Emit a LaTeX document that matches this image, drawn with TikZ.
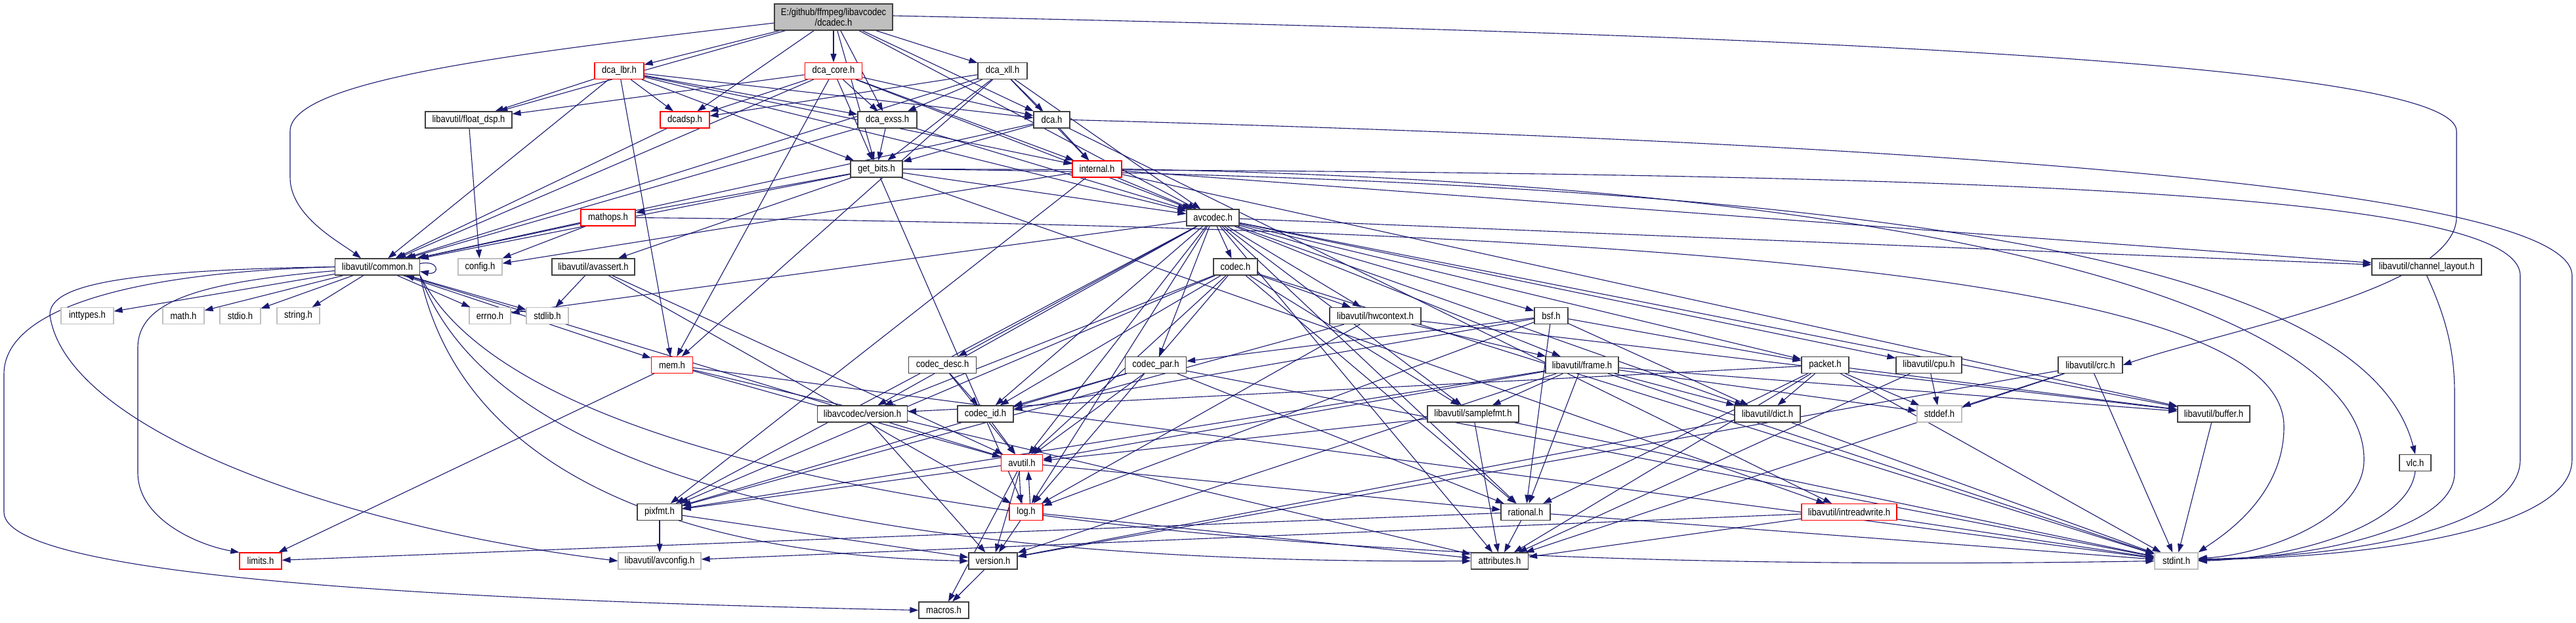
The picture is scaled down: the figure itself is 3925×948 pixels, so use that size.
\documentclass[tikz,border=0pt]{standalone}
\usepackage{fontspec}
\setmainfont{Liberation Sans}[FakeStretch=0.87]
\usetikzlibrary{arrows.meta,calc}
\definecolor{edgecol}{HTML}{191970}
\definecolor{rootfill}{HTML}{BFBFBF}
\definecolor{grayb}{HTML}{BFBFBF}
\definecolor{darkb}{HTML}{404040}
\pgfdeclarelayer{bg}
\pgfsetlayers{bg,main}
\newcommand{\mkbox}[6]{\node[#5, minimum width=#4pt] (#1) at (#2,#3) {#6};}
\begin{document}
\begin{tikzpicture}[x=1pt,y=-1pt, font=\fontsize{15}{16}\selectfont,
  box/.style={rectangle, draw=darkb, line width=1.2pt, fill=white, minimum height=25pt, inner sep=0pt},
  rbox/.style={box, draw=red},
  gbox/.style={box, draw=grayb},
  e/.style={draw=edgecol, line width=1.1pt, -{Triangle[length=13pt,width=9pt]}}]
\begin{pgfonlayer}{bg}
\fill[white] (0,0) rectangle (3925,948);
\end{pgfonlayer}
\useasboundingbox (0,0) rectangle (3925,948);

\node[box, fill=rootfill, minimum width=180pt, minimum height=40pt, align=center] (root) at (1270,26) {E:/github/ffmpeg/libavcodec\\/dcadec.h};
\mkbox{lbr}{943.5}{108}{75}{rbox}{dca\_lbr.h}
\mkbox{core}{1270}{108}{87.5}{rbox}{dca\_core.h}
\mkbox{xll}{1527.5}{108}{75}{box}{dca\_xll.h}
\mkbox{fdsp}{714}{182.5}{132}{box}{libavutil/float\_dsp.h}
\mkbox{dsp}{1043.5}{182.5}{75}{rbox}{dcadsp.h}
\mkbox{exss}{1352}{182.5}{90}{box}{dca\_exss.h}
\mkbox{dca}{1602.5}{182.5}{55}{box}{dca.h}
\mkbox{gb}{1335.5}{257.5}{79}{box}{get\_bits.h}
\mkbox{intl}{1671.5}{257.5}{75}{rbox}{internal.h}
\mkbox{mathops}{926.5}{331.5}{83}{rbox}{mathops.h}
\mkbox{avc}{1848}{331.5}{80}{box}{avcodec.h}
\mkbox{common}{575}{406.5}{129}{box}{libavutil/common.h}
\mkbox{config}{731.5}{406.5}{67}{gbox}{config.h}
\mkbox{avassert}{904}{406.5}{126}{box}{libavutil/avassert.h}
\mkbox{codec}{1882.5}{406.5}{67}{box}{codec.h}
\mkbox{chl}{3697.5}{406.5}{167}{box}{libavutil/channel\_layout.h}
\mkbox{inttypes}{133}{481}{80}{gbox}{inttypes.h}
\mkbox{mathh}{279.5}{481}{63}{gbox}{math.h}
\mkbox{stdio}{366}{481}{62}{gbox}{stdio.h}
\mkbox{string}{454.5}{481}{65}{gbox}{string.h}
\mkbox{errno}{746.5}{481}{63}{gbox}{errno.h}
\mkbox{stdlib}{834}{481}{64}{gbox}{stdlib.h}
\mkbox{hwctx}{2095.5}{481}{139}{box}{libavutil/hwcontext.h}
\mkbox{bsf}{2363.5}{481}{51}{box}{bsf.h}
\mkbox{mem}{1024}{556}{63}{rbox}{mem.h}
\mkbox{codecdesc}{1436}{556}{103}{box}{codec\_desc.h}
\mkbox{codecpar}{1761}{556}{93}{box}{codec\_par.h}
\mkbox{frame}{2410.5}{556}{111}{box}{libavutil/frame.h}
\mkbox{packet}{2781}{556}{72}{box}{packet.h}
\mkbox{cpu}{2939}{556}{100}{box}{libavutil/cpu.h}
\mkbox{crc}{3185}{556}{98}{box}{libavutil/crc.h}
\mkbox{lavcver}{1314}{630.5}{137}{box}{libavcodec/version.h}
\mkbox{codecid}{1501.5}{630.5}{85}{box}{codec\_id.h}
\mkbox{samplefmt}{2244.5}{630.5}{139}{box}{libavutil/samplefmt.h}
\mkbox{dict}{2693}{630.5}{100}{box}{libavutil/dict.h}
\mkbox{stddef}{2955}{630.5}{68}{gbox}{stddef.h}
\mkbox{buffer}{3373}{630.5}{110}{box}{libavutil/buffer.h}
\mkbox{avutil}{1557}{705}{63}{rbox}{avutil.h}
\mkbox{vlc}{3680}{705}{48}{box}{vlc.h}
\mkbox{pixfmt}{1005}{780}{68}{box}{pixfmt.h}
\mkbox{log}{1563.5}{780}{51}{rbox}{log.h}
\mkbox{rational}{2324.5}{780}{75}{box}{rational.h}
\mkbox{irw}{2817.5}{780}{145}{rbox}{libavutil/intreadwrite.h}
\mkbox{limits}{397}{854.5}{64}{rbox}{limits.h}
\mkbox{avconfig}{1005}{854.5}{126}{gbox}{libavutil/avconfig.h}
\mkbox{version}{1513}{854.5}{74}{box}{version.h}
\mkbox{attributes}{2285}{854.5}{87}{box}{attributes.h}
\mkbox{stdint}{3316}{854.5}{66}{gbox}{stdint.h}
\mkbox{macros}{1438}{929.5}{76}{box}{macros.h}

\begin{pgfonlayer}{bg}
\foreach \a/\b in {root/fdsp, root/avc, root/gb, root/dca, root/dsp, root/core, root/exss, root/xll, root/lbr,
  lbr/common, lbr/fdsp, lbr/mem, lbr/avc, lbr/gb, lbr/dca, lbr/exss, lbr/dsp, lbr/intl,
  core/common, core/fdsp, core/mem, core/avc, core/intl, core/gb, core/dca, core/exss, core/dsp,
  xll/common, xll/mem, xll/avc, xll/intl, xll/gb, xll/dca, xll/dsp, xll/exss,
  exss/common, exss/avc, exss/gb,
  dca/common, dca/irw, dca/gb, dca/intl,
  dsp/common, fdsp/config,
  gb/common, gb/irw, gb/log, gb/avassert, gb/avc, gb/mathops,
  intl/buffer, intl/chl, intl/pixfmt, intl/avc, intl/config,
  mathops/common, mathops/config,
  avc/errno, avc/samplefmt, avc/attributes, avc/avutil, avc/buffer, avc/cpu, avc/chl, avc/dict, avc/frame, avc/hwctx,
  avc/log, avc/pixfmt, avc/rational, avc/bsf, avc/codec, avc/codecdesc, avc/codecpar, avc/codecid, avc/packet, avc/lavcver,
  common/errno, common/inttypes, common/mathh, common/stdio, common/stdlib, common/string, common/mem,
  avassert/stdlib, avassert/avutil, avassert/log,
  codec/stdint, codec/avutil, codec/hwctx, codec/log, codec/pixfmt, codec/rational, codec/samplefmt, codec/codecid, codec/lavcver,
  hwctx/buffer, hwctx/frame, hwctx/log, hwctx/pixfmt,
  bsf/dict, bsf/log, bsf/rational, bsf/codecid, bsf/codecpar, bsf/packet,
  mem/limits, mem/stdint, mem/attributes, mem/avutil,
  codecdesc/avutil, codecdesc/codecid,
  codecpar/stdint, codecpar/avutil, codecpar/rational, codecpar/pixfmt, codecpar/codecid,
  frame/stddef, frame/stdint, frame/avutil, frame/buffer, frame/dict, frame/rational, frame/samplefmt, frame/pixfmt, frame/version,
  packet/stddef, packet/stdint, packet/attributes, packet/buffer, packet/dict, packet/rational, packet/lavcver,
  cpu/stddef, cpu/attributes,
  crc/stdint, crc/stddef, crc/attributes, crc/version,
  lavcver/version, codecid/avutil,
  samplefmt/stdint, samplefmt/avutil, samplefmt/attributes,
  dict/stdint, dict/version, buffer/stdint,
  avutil/common, avutil/rational, avutil/version, avutil/macros, avutil/pixfmt,
  pixfmt/avconfig, pixfmt/version,
  log/attributes, log/version,
  rational/stdint, rational/limits, rational/attributes,
  irw/stdint, irw/avconfig, irw/attributes,
  version/macros}
  \draw[e] (\a) -- (\b);

\draw[e] ([yshift=-9pt]root.west) .. controls (800,80) and (442,120) .. (442,200) -- (442,270) .. controls (442,330) and (520,370) .. ([xshift=-25pt]common.north);
\draw[e] ([yshift=2pt]root.east) .. controls (2600,50) and (3743,90) .. (3743,200) -- (3743,330) .. controls (3743,440) and (3400,500) .. (crc.east);
\draw[e] (dca.east) .. controls (3000,220) and (3919,290) .. (3919,420) -- (3919,700) .. controls (3919,810) and (3600,850) .. ([yshift=2pt]stdint.east);
\draw[e] (gb.east) .. controls (3000,262) and (3840,290) .. (3840,420) -- (3840,700) .. controls (3840,800) and (3600,848) .. ([yshift=3pt]stdint.east);
\draw[e] (intl.east) .. controls (3000,280) and (3602,480) .. (3602,700) .. controls (3602,790) and (3450,845) .. ([yshift=4pt]stdint.east);
\draw[e] (chl.south) .. controls (3725,480) and (3740,530) .. (3740,600) -- (3740,720) .. controls (3740,800) and (3550,848) .. ([yshift=1pt]stdint.east);
\draw[e] (mathops.east) .. controls (2800,350) and (3480,450) .. (3480,650) .. controls (3480,760) and (3380,820) .. (stdint.north east);
\draw[e] (vlc.south) .. controls (3670,800) and (3500,850) .. (stdint.east);
\draw[e] (gb.east) .. controls (3000,275) and (3610,420) .. (vlc.north);
\draw[e] (common.west) .. controls (200,415) and (6,470) .. (6,570) -- (6,780) .. controls (6,880) and (700,915) .. (macros.west);
\draw[e] (common.west) .. controls (150,412) and (76,440) .. (76,480) .. controls (100,650) and (500,800) .. (avconfig.west);
\draw[e] ([yshift=-6pt]common.west) .. controls (300,430) and (210,460) .. (210,530) -- (210,720) .. controls (210,790) and (300,830) .. (limits.north west);
\draw[e] (common.south east) .. controls (700,700) and (1000,845) .. (version.west);
\draw[e] (common.south east) .. controls (750,720) and (1300,860) .. (attributes.west);
\draw[e] (common.south east) .. controls (800,740) and (1800,880) .. (stdint.west);
\draw[e] ([yshift=5pt]common.east) .. controls +(30,-6) and +(30,6) .. ([yshift=-7pt]common.east);
\draw[e] ([xshift=-4pt]avutil.south) -- ([xshift=-8pt]log.north);
\draw[e] ([xshift=6pt]log.north) -- ([xshift=10pt]avutil.south);
\end{pgfonlayer}
\end{tikzpicture}
\end{document}
